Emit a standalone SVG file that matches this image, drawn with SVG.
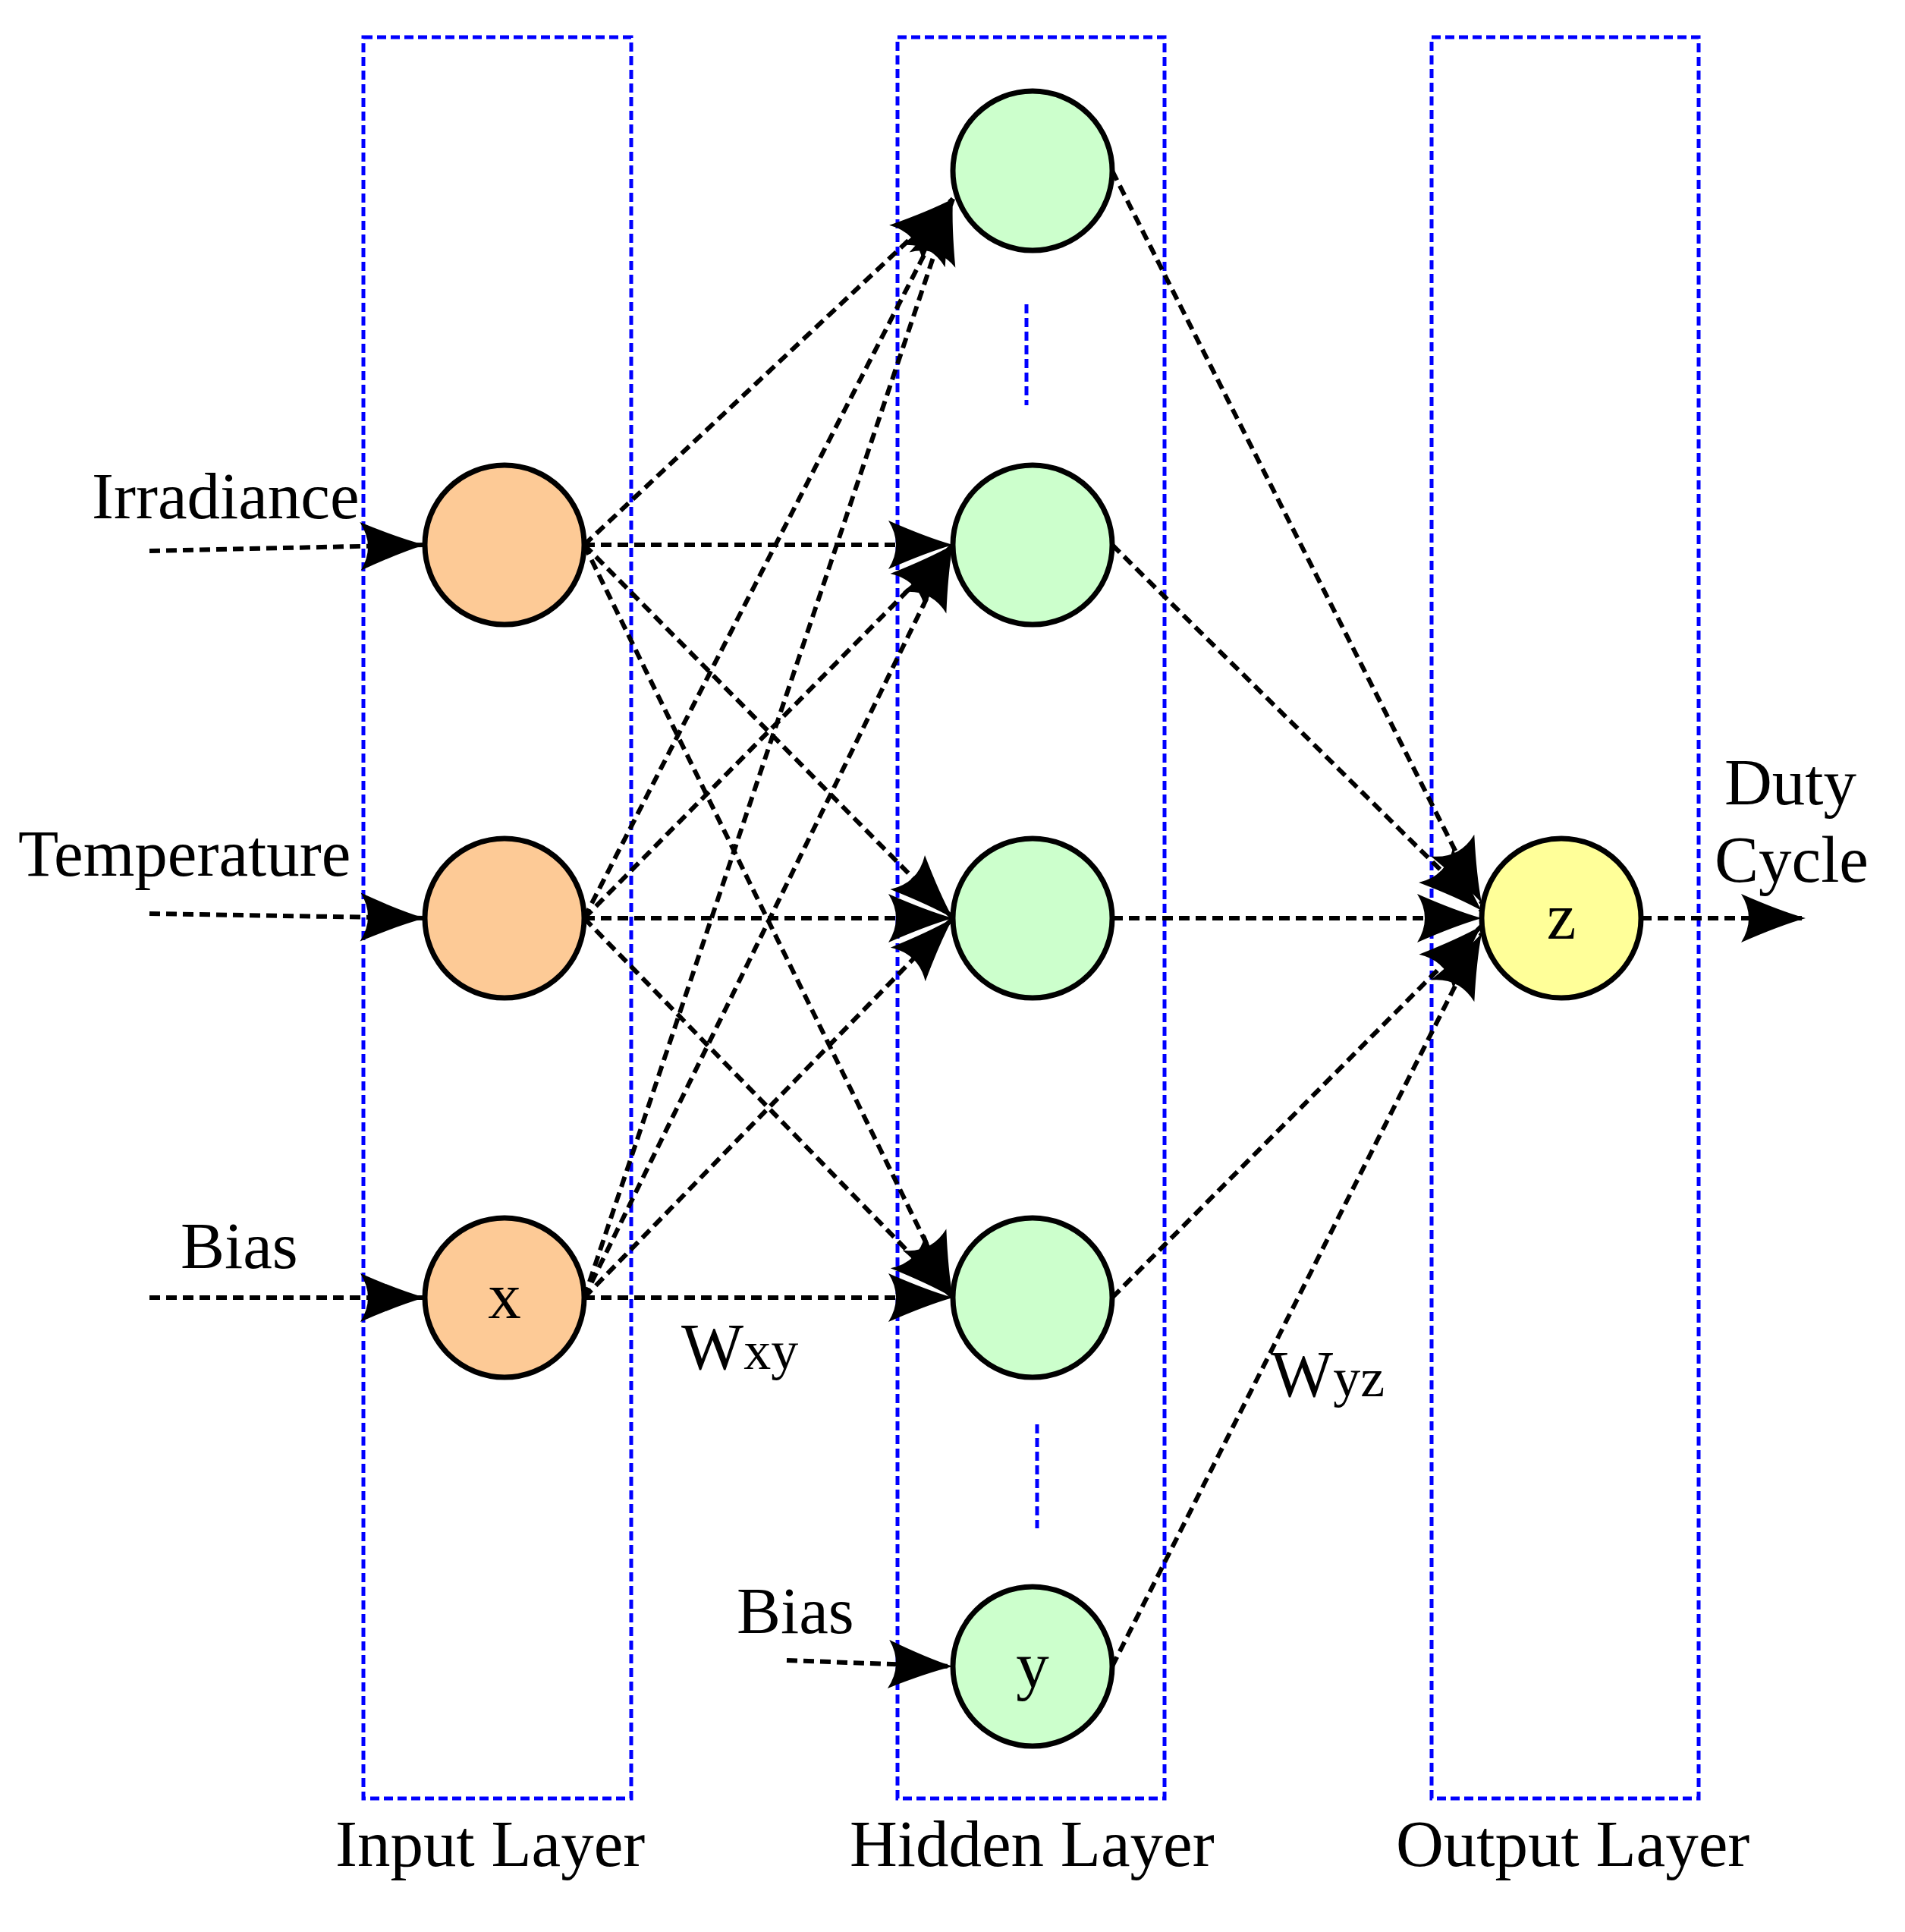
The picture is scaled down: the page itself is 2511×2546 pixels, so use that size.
<svg xmlns="http://www.w3.org/2000/svg" width="2511" height="2546" viewBox="0 0 2511 2546">
<style>
.box{fill:none;stroke:#0000ff;stroke-width:5;stroke-dasharray:12 6}
.c{stroke:#000;stroke-width:7}
.in{fill:#fdca96}.hid{fill:#ccffcc}.out{fill:#ffff99}
.e{fill:none;stroke:#000;stroke-width:6;stroke-dasharray:14 8}
text{font-family:"Liberation Serif",serif;font-size:87px;fill:#000}
</style>
<defs>
<marker id="a" markerUnits="userSpaceOnUse" markerWidth="100" markerHeight="80" viewBox="-90 -40 100 80" refX="0" refY="0" orient="auto">
<path d="M0,0 Q-35,-10 -85,-32 Q-65,0 -85,32 Q-35,10 0,0 Z" fill="#000"/>
</marker>
</defs>
<g id="layers">
<rect class="box" x="479" y="49" width="353" height="2321"/>
<rect class="box" x="1183" y="49" width="352" height="2321"/>
<rect class="box" x="1887" y="49" width="352" height="2321"/>
<line class="box" x1="1353" y1="401" x2="1353" y2="534"/>
<line class="box" x1="1367" y1="1877" x2="1367" y2="2014"/>
</g>
<g id="connectors" marker-end="url(#a)">
<line class="e" x1="197" y1="726" x2="560" y2="718"/>
<line class="e" x1="197" y1="1204" x2="560" y2="1210"/>
<line class="e" x1="197" y1="1710" x2="560" y2="1710"/>
<line class="e" x1="1037" y1="2188" x2="1256" y2="2196"/>
<line class="e" x1="2163" y1="1210" x2="2380" y2="1210"/>
<line class="e" x1="770" y1="718" x2="1256" y2="262"/>
<line class="e" x1="770" y1="718" x2="1256" y2="718"/>
<line class="e" x1="770" y1="718" x2="1256" y2="1210"/>
<line class="e" x1="770" y1="718" x2="1256" y2="1710"/>
<line class="e" x1="770" y1="1210" x2="1256" y2="262"/>
<line class="e" x1="770" y1="1210" x2="1256" y2="718"/>
<line class="e" x1="770" y1="1210" x2="1256" y2="1210"/>
<line class="e" x1="770" y1="1210" x2="1256" y2="1710"/>
<line class="e" x1="770" y1="1710" x2="1256" y2="262"/>
<line class="e" x1="770" y1="1710" x2="1256" y2="718"/>
<line class="e" x1="770" y1="1710" x2="1256" y2="1210"/>
<line class="e" x1="770" y1="1710" x2="1256" y2="1710"/>
<line class="e" x1="1466" y1="225" x2="1953" y2="1190"/>
<line class="e" x1="1466" y1="718" x2="1953" y2="1200"/>
<line class="e" x1="1466" y1="1210" x2="1953" y2="1210"/>
<line class="e" x1="1466" y1="1710" x2="1953" y2="1220"/>
<line class="e" x1="1466" y1="2196" x2="1953" y2="1230"/>
</g>
<g id="in1"><circle class="c in" cx="665" cy="718" r="105"/></g>
<g id="in2"><circle class="c in" cx="665" cy="1210" r="105"/></g>
<g id="in3"><circle class="c in" cx="665" cy="1710" r="105"/><text x="665" y="1737" text-anchor="middle">x</text></g>
<g id="h1"><circle class="c hid" cx="1361" cy="225" r="105"/></g>
<g id="h2"><circle class="c hid" cx="1361" cy="718" r="105"/></g>
<g id="h3"><circle class="c hid" cx="1361" cy="1210" r="105"/></g>
<g id="h4"><circle class="c hid" cx="1361" cy="1710" r="105"/></g>
<g id="h5"><circle class="c hid" cx="1361" cy="2196" r="105"/><text x="1361" y="2223" text-anchor="middle">y</text></g>
<g id="o1"><circle class="c out" cx="2058" cy="1210" r="105"/><text x="2058" y="1237" text-anchor="middle">z</text></g>
<g id="labels">
<text x="121" y="683">Irradiance</text>
<text x="24" y="1154">Temperature</text>
<text x="238" y="1671">Bias</text>
<text x="971" y="2152">Bias</text>
<text x="898" y="1804">W<tspan font-size="72">xy</tspan></text>
<text x="1675" y="1840">W<tspan font-size="72">yz</tspan></text>
<text x="2273" y="1060">Duty</text>
<text x="2260" y="1162">Cycle</text>
<text x="442" y="2459">Input Layer</text>
<text x="1120" y="2459">Hidden Layer</text>
<text x="1840" y="2459">Output Layer</text>
</g>
</svg>
